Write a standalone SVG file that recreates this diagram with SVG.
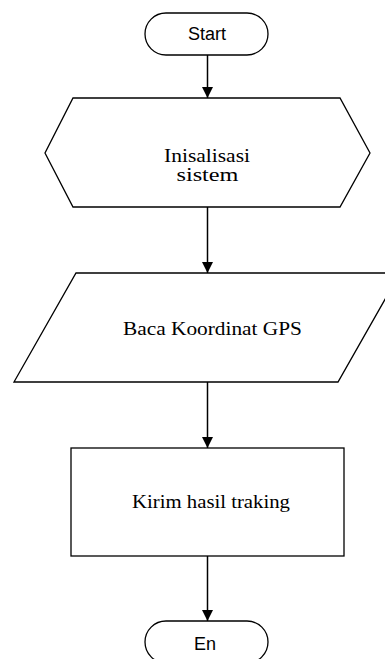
<svg xmlns="http://www.w3.org/2000/svg" width="385" height="659" viewBox="0 0 385 659">
<style>
.shape{fill:#fff;stroke:#000;stroke-width:1.3}
.sans{font-family:"Liberation Sans",Arial,sans-serif;font-size:18px;fill:#000;text-anchor:middle}
.serif{font-family:"Liberation Serif","Times New Roman",serif;font-size:19px;fill:#000;text-anchor:middle}
.conn{stroke:#000;stroke-width:1.5;fill:none;marker-end:url(#arr)}
</style>
<defs>
<marker id="arr" markerWidth="11" markerHeight="11" refX="11" refY="5.5" orient="auto" markerUnits="userSpaceOnUse">
<path d="M0,0 L11,5.5 L0,11 Z" fill="#000"/>
</marker>
</defs>
<rect width="385" height="659" fill="#fff"/>
<g id="connectors">
<line class="conn" x1="207.5" y1="55" x2="207.5" y2="98"/>
<line class="conn" x1="207.5" y1="207" x2="207.5" y2="273"/>
<line class="conn" x1="207.5" y1="382" x2="207.5" y2="448"/>
<line class="conn" x1="207.5" y1="556" x2="207.5" y2="621"/>
</g>
<g id="start">
<rect class="shape" x="145" y="13" width="123" height="42" rx="21" ry="21"/>
<text class="sans" x="207" y="40">Start</text>
</g>
<g id="init">
<polygon class="shape" points="73,98 340,98 370,153 340,207 73,207 45,153"/>
<text class="serif" x="207" y="162" style="font-size:18px" textLength="86" lengthAdjust="spacingAndGlyphs">Inisalisasi</text>
<text class="serif" x="207.5" y="181" style="font-size:18px" textLength="62" lengthAdjust="spacingAndGlyphs">sistem</text>
</g>
<g id="read">
<polygon class="shape" points="76,273 400,273 338,382 14,382"/>
<text class="serif" x="212.5" y="335" textLength="179" lengthAdjust="spacingAndGlyphs">Baca Koordinat GPS</text>
</g>
<g id="send">
<rect class="shape" x="71" y="448" width="273" height="108"/>
<text class="serif" x="211" y="508" textLength="158" lengthAdjust="spacingAndGlyphs">Kirim hasil traking</text>
</g>
<g id="end">
<rect class="shape" x="145" y="621" width="123" height="42" rx="21" ry="21"/>
<text class="sans" x="205" y="650">En</text>
</g>
</svg>
